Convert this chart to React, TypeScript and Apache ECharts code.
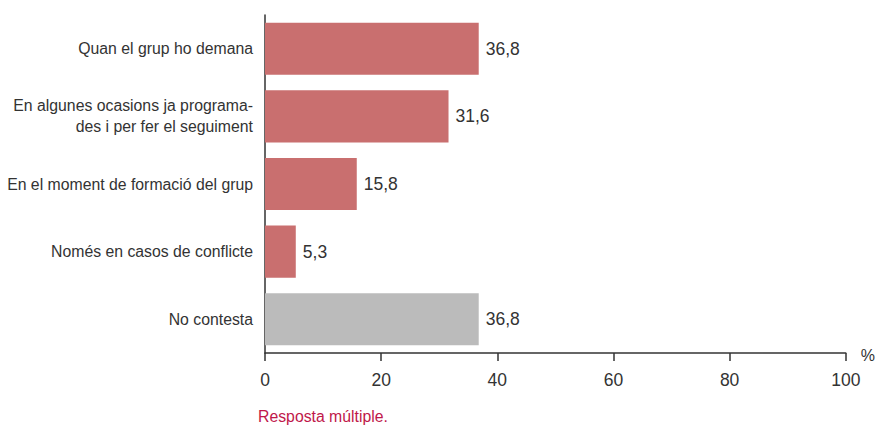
import React, { useEffect, useRef } from "react";
import * as echarts from "echarts";

const categories = [
  "Quan el grup ho demana",
  "En algunes ocasions ja programa-\ndes i per fer el seguiment",
  "En el moment de formació del grup",
  "Només en casos de conflicte",
  "No contesta",
];
const values = [36.8, 31.6, 15.8, 5.3, 36.8];
const barColors = ["#c96f6f", "#c96f6f", "#c96f6f", "#c96f6f", "#bbbbbb"];
const xTicks = { min: 0, max: 100, interval: 20 };
const footnote = "Resposta múltiple.";
const unit = "%";

const FONT = "Liberation Sans";

export default function App() {
  const ref = useRef<HTMLDivElement>(null);
  useEffect(() => {
    if (!ref.current) return;
    const chart = echarts.init(ref.current, undefined, { renderer: "svg" });
    chart.setOption({
      animation: false,
      textStyle: { fontFamily: FONT },
      grid: { left: 265, right: 30, top: 15, bottom: 74, containLabel: false },
      xAxis: {
        type: "value",
        min: xTicks.min,
        max: xTicks.max,
        interval: xTicks.interval,
        name: unit,
        nameLocation: "end",
        nameGap: 15,
        nameTextStyle: { color: "#333", fontSize: 16, fontFamily: FONT, verticalAlign: "bottom", padding: [0, 0, -10, 0] },
        axisLine: { show: true, lineStyle: { color: "#333", width: 1.5 } },
        axisTick: { show: true, length: 8, lineStyle: { color: "#333", width: 1.5 } },
        axisLabel: { color: "#333", fontSize: 17.5, margin: 18, fontFamily: FONT },
        splitLine: { show: false },
      },
      yAxis: {
        type: "category",
        data: categories,
        inverse: true,
        axisLine: { show: true, lineStyle: { color: "#333", width: 1.5 } },
        axisTick: { show: false },
        axisLabel: { color: "#333", fontSize: 15.8, margin: 12, lineHeight: 21, fontFamily: FONT },
      },
      series: [
        {
          type: "bar",
          data: values.map((v, i) => ({ value: v, itemStyle: { color: barColors[i] } })),
          barCategoryGap: "23%",
          label: {
            show: true,
            position: "right",
            distance: 7,
            color: "#333",
            fontSize: 17.5,
            fontFamily: FONT,
            formatter: (p: any) => String(p.value).replace(".", ","),
          },
        },
      ],
      graphic: [
        {
          type: "text",
          left: 258,
          top: 408,
          style: { text: footnote, fill: "#c0174a", fontSize: 15.8, fontFamily: FONT },
        },
      ],
    });
    return () => chart.dispose();
  }, []);
  return <div ref={ref} style={{ position: "absolute", left: 0, top: 0, width: 878, height: 427 }} />;
}
